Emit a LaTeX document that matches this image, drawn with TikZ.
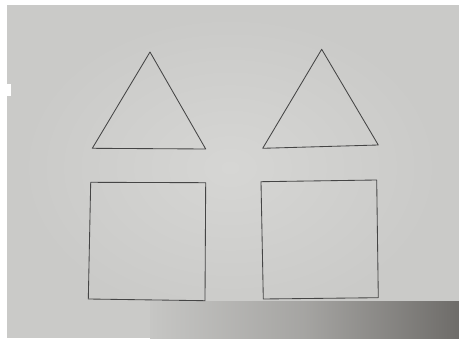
\documentclass[tikz,border=0pt]{standalone}
\usetikzlibrary{calc}
\definecolor{paper}{HTML}{CACAC8}
\definecolor{paperlight}{HTML}{D6D6D4}
\definecolor{shadowdark}{HTML}{6E6C69}
\definecolor{ink}{HTML}{454545}
\tikzset{shapeline/.style={draw=ink, line width=0.85pt, line join=round}}
\begin{document}
\begin{tikzpicture}[x=1pt,y=-1pt]
\useasboundingbox (0,0) rectangle (459,340);
\fill[white] (0,0) rectangle (459,340);
\fill[paper] (7,5) rectangle (459,338);
\shade[inner color=paperlight, outer color=paper] (20,15) rectangle (440,320);
\shade[left color=paper!98!black, right color=shadowdark, middle color=paper!60!shadowdark] (150,301) rectangle (459,338);
\fill[white] (7,84) rectangle (11,96);
% triangles
\coordinate (t1a) at (150,52);
\coordinate (t1l) at (92.3,148.3);
\coordinate (t1r) at (205.7,149);
\draw[shapeline] (t1a) -- (t1r) -- (t1l) -- cycle;
\coordinate (t2a) at (321.7,49.3);
\coordinate (t2l) at (262.7,148.3);
\coordinate (t2r) at (378.3,145);
\draw[shapeline] (t2a) -- (t2r) -- (t2l) -- cycle;
% squares
\coordinate (s1a) at (90.7,182.3);
\coordinate (s1b) at (205.7,182.7);
\coordinate (s1c) at (205,300.7);
\coordinate (s1d) at (88.3,299);
\draw[shapeline] (s1a) -- (s1b) -- (s1c) -- (s1d) -- cycle;
\coordinate (s2a) at (261,181.7);
\coordinate (s2b) at (376.7,180);
\coordinate (s2c) at (378.3,297.7);
\coordinate (s2d) at (263.3,299);
\draw[shapeline] (s2a) -- (s2b) -- (s2c) -- (s2d) -- cycle;
\end{tikzpicture}
\end{document}
